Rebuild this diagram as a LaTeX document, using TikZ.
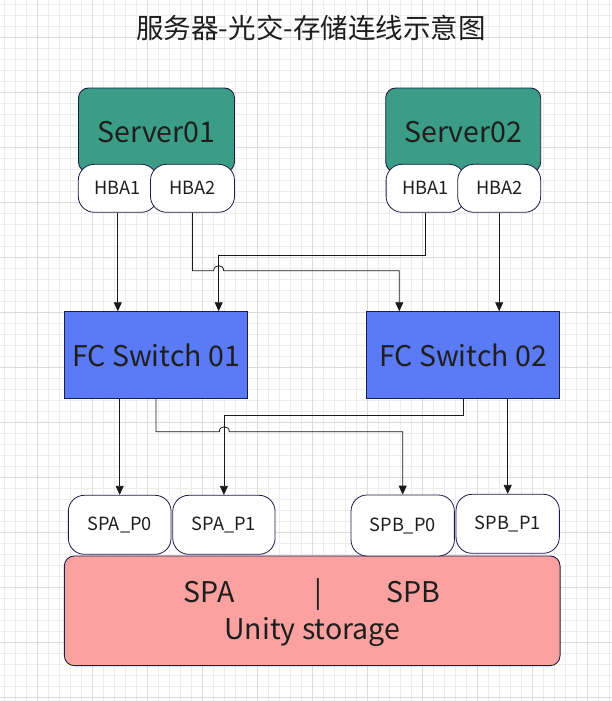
\documentclass[tikz,border=0pt]{standalone}
\usepackage{fontspec}
\setmainfont{Noto Sans CJK SC}
\usetikzlibrary{arrows.meta,calc}
\definecolor{gminor}{HTML}{EDEDED}
\definecolor{gmajor}{HTML}{DCDCDC}
\definecolor{srvfill}{HTML}{3B9D85}
\definecolor{swfill}{HTML}{5A7BF5}
\definecolor{stfill}{HTML}{FBA19F}
\definecolor{edge}{HTML}{1C1C4A}
\definecolor{ink}{HTML}{1E1E1E}
\definecolor{wire}{HTML}{1A1A1A}
\tikzset{
  big/.style={font=\fontsize{28.5}{30}\selectfont, text=ink},
  small/.style={font=\fontsize{18.2}{20}\selectfont, text=ink},
  serverbox/.style={draw=edge, line width=0.9pt, fill=srvfill, rounded corners=10pt, inner sep=0pt},
  portbox/.style={draw=edge, line width=0.8pt, fill=white, rounded corners=16pt, inner sep=0pt, small},
  switchbox/.style={draw=edge, line width=0.9pt, fill=swfill, inner sep=0pt, big},
  storebox/.style={draw=edge, line width=0.9pt, fill=stfill, rounded corners=10pt, inner sep=0pt, big, align=center},
  wirearrow/.style={draw=wire, line width=0.8pt, -{Triangle[length=9pt,width=8pt]}},
}
\begin{document}
\begin{tikzpicture}[x=1pt,y=-1pt]
\useasboundingbox (0,0) rectangle (612,701);
\fill[white] (0,0) rectangle (612,701);
% grid
\foreach \k in {0,...,56} {
  \draw[gminor, line width=0.8pt] ({4.5+11*\k},0) -- ({4.5+11*\k},701);
}
\foreach \k in {0,...,64} {
  \draw[gminor, line width=0.8pt] (0,{4.5+11*\k}) -- (612,{4.5+11*\k});
}
\foreach \k in {0,...,11} {
  \draw[gmajor, line width=0.8pt] ({37.5+55*\k},0) -- ({37.5+55*\k},701);
}
\foreach \k in {0,...,12} {
  \draw[gmajor, line width=0.8pt] (0,{37.5+55*\k}) -- (612,{37.5+55*\k});
}

% title
\node[font=\fontsize{27.5}{30}\selectfont, text=ink] (title) at (311,28) {服务器-光交-存储连线示意图};

% servers
\node[serverbox, minimum width=156pt, minimum height=84pt] (srv1) at (156.5,130) {};
\node[big] (srv1t) at (156.5,132) {Server01};
\node[serverbox, minimum width=155pt, minimum height=84pt] (srv2) at (463.2,130) {};
\node[big] (srv2t) at (463.2,132) {Server02};

% HBAs
\node[portbox, minimum width=79pt, minimum height=48pt] (s1h1) at (117.8,188.3) {HBA1};
\node[portbox, minimum width=84pt, minimum height=48pt] (s1h2) at (192.5,188.3) {HBA2};
\node[portbox, minimum width=79pt, minimum height=48pt] (s2h1) at (425.6,188.3) {HBA1};
\node[portbox, minimum width=83pt, minimum height=48pt] (s2h2) at (499.2,188.3) {HBA2};

% switches
\node[switchbox, minimum width=183.4pt, minimum height=86.6pt] (sw1) at (156,355) {FC Switch 01};
\node[switchbox, minimum width=192.6pt, minimum height=86.6pt] (sw2) at (463,355) {FC Switch 02};

% storage
\node[storebox, minimum width=495.7pt, minimum height=109.7pt] (store) at (312.2,610.8) {};
\node[big, align=center] (storet) at (312.2,613)
  {\makebox[257pt][l]{SPA\hspace{80pt}|\hfill SPB}\\[6pt]Unity storage};

% storage ports
\node[portbox, minimum width=102.7pt, minimum height=59pt] (spa0) at (119.7,524.8) {SPA\_P0};
\node[portbox, minimum width=102.3pt, minimum height=59pt] (spa1) at (223.9,524.8) {SPA\_P1};
\node[portbox, minimum width=103.3pt, minimum height=61pt] (spb0) at (402.7,525.5) {SPB\_P0};
\node[portbox, minimum width=103.3pt, minimum height=59pt] (spb1) at (507.7,523.8) {SPB\_P1};

% lanes
\coordinate (laneA) at (218.7,0);
\coordinate (laneB) at (399.3,0);
\coordinate (laneC) at (224.3,0);

% server -> switch
\draw[wirearrow] (s1h1.south) -- (s1h1.south |- sw1.north);
\draw[wirearrow] (s2h2.south) -- (s2h2.south |- sw2.north);
\draw[wirearrow] (s2h1.south) -- ++(0,43) -| (laneA |- sw1.north);
\draw[wirearrow] (s1h2.south) -- ++(0,58) -- ($(laneA |- s1h2.south)+(-5,58)$)
  .. controls ($(laneA |- s1h2.south)+(-5,51.3)$) and ($(laneA |- s1h2.south)+(5,51.3)$) .. ($(laneA |- s1h2.south)+(5,58)$)
  -| (laneB |- sw2.north);

% switch -> storage ports
\draw[wirearrow] (spa0.north |- sw1.south) -- (spa0.north);
\draw[wirearrow] (spb1.north |- sw2.south) -- (spb1.north);
\draw[wirearrow] (sw2.south) -- ++(0,16.7) -| (spa1.north);
\draw[wirearrow] (sw1.south) -- ++(0,33) -- ($(laneC |- sw1.south)+(-5,33)$)
  .. controls ($(laneC |- sw1.south)+(-5,26.3)$) and ($(laneC |- sw1.south)+(5,26.3)$) .. ($(laneC |- sw1.south)+(5,33)$)
  -| (spb0.north);
\end{tikzpicture}
\end{document}
